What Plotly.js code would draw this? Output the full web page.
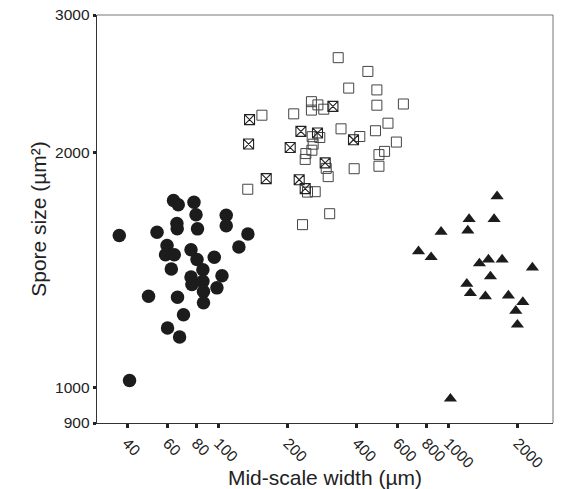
<!DOCTYPE html>
<html>
<head>
<meta charset="utf-8">
<script src="https://cdn.plot.ly/plotly-3.0.1.min.js"></script>
<style>html,body{margin:0;padding:0;background:#fff;}#chart{width:566px;height:489px;}</style>
</head>
<body>
<div id="chart"></div>
<script>
// Filled circles
const circleX = [37.0, 54.0, 63.7, 66.8, 78.2, 79.8, 65.9, 66.1, 81.0, 108, 108, 134.2, 122.6, 59.7, 58.8, 64.2, 62.3, 75.9, 80.6, 85.5, 95.8, 75.9, 76.6, 85.5, 86.0, 86.0, 103.5, 98.4, 49.6, 66.3, 70.4, 60.0, 67.7, 41.0];
const circleY = [1565, 1580, 1735, 1714, 1726, 1664, 1621, 1597, 1596, 1661, 1611, 1572, 1513, 1520, 1479, 1479, 1418, 1501, 1458, 1415, 1468, 1385, 1354, 1367, 1327, 1283, 1390, 1341, 1308, 1304, 1239, 1191, 1160, 1020];

// Crossed squares
const crossX = [136.4, 135.1, 161.2, 205.0, 228.2, 269.4, 314.4, 224.3, 238.2, 291.0, 386.4];
const crossY = [2203, 2050, 1851, 2029, 2128, 2118, 2291, 1845, 1797, 1939, 2076];

// Open squares
const openX = [331.5, 446.3, 368.3, 488.3, 488.3, 636.9, 253.5, 253.5, 270.5, 287, 154.4, 212.3, 341, 545.8, 481.5, 411.6, 593.7, 527.5, 498.6, 498.6, 389, 299.9, 294, 255.5, 258, 254.7, 239.7, 238.2, 275.7, 263.3, 243.8, 134, 304.4, 231.9];
const openY = [2645, 2540, 2418, 2405, 2299, 2307, 2323, 2266, 2301, 2272, 2232, 2241, 2144, 2180, 2132, 2096, 2062, 2006, 1987, 1920, 1906, 1862, 1908, 2095, 2049, 2013, 1993, 1959, 2090, 1781, 1779, 1794, 1669, 1616];

// Filled triangles
const triX = [1628, 1230, 1580, 929, 1214, 741, 841, 1364, 1493, 1712, 2318, 1523, 1202, 1246, 1448, 1823, 2106, 1963, 1995, 1020];
const triY = [1757, 1643, 1643, 1582, 1588, 1494, 1468, 1441, 1458, 1458, 1424, 1387, 1357, 1320, 1308, 1311, 1286, 1253, 1203, 967];

const xTicks = [40, 60, 80, 100, 200, 400, 600, 800, 1000, 2000];
const xTickText = ['40', '60', '80', '100', '200', '400', '600', '800', '1000', '2000'];
const yTicks = [900, 1000, 2000, 3000];
const yTickText = ['900', '1000', '2000', '3000'];

const ink = '#1c1c1c';
const traces = [
  {x: openX, y: openY, mode: 'markers', type: 'scatter', name: 'open',
   marker: {symbol: 'square-open', size: 10, color: '#444', line: {width: 1, color: '#444'}}},
  {x: crossX, y: crossY, mode: 'markers', type: 'scatter', name: 'crossed',
   marker: {symbol: 'square-x-open', size: 10, color: '#222', line: {width: 1.1, color: '#222'}}},
  {x: circleX, y: circleY, mode: 'markers', type: 'scatter', name: 'circles',
   marker: {symbol: 'circle', size: 13.5, color: ink, line: {width: 0}}},
  {x: triX, y: triY, mode: 'markers', type: 'scatter', name: 'triangles',
   marker: {symbol: 'triangle-up', size: 11.5, color: ink, line: {width: 0}}}
];

const layout = {
  width: 566, height: 489,
  margin: {l: 97, r: 13, t: 15, b: 66},
  paper_bgcolor: '#fff', plot_bgcolor: '#fff',
  showlegend: false,
  font: {family: '"Liberation Sans", Arial, sans-serif', color: '#222'},
  xaxis: {
    type: 'log', range: [Math.log10(29.6), Math.log10(2850)],
    tickvals: xTicks, ticktext: xTickText, tickangle: 45,
    ticks: 'outside', ticklen: 4, tickwidth: 3, tickcolor: '#222',
    tickfont: {size: 15.5, color: '#222'},
    showgrid: false, zeroline: false,
    showline: true, linecolor: '#333', linewidth: 1.3,
    title: {text: 'Mid-scale width (µm)', font: {size: 21, color: '#222'}, standoff: 0},
    automargin: false
  },
  yaxis: {
    type: 'log', range: [Math.log10(900), Math.log10(3000)],
    tickvals: yTicks, ticktext: yTickText,
    ticks: 'outside', ticklen: 3, tickwidth: 3, tickcolor: '#222',
    tickfont: {size: 15.5, color: '#222'},
    showgrid: false, zeroline: false,
    showline: true, linecolor: '#333', linewidth: 1.3,
    title: {text: 'Spore size (µm²)', font: {size: 21, color: '#222'}, standoff: 2},
    automargin: false
  },
  shapes: [
    {type: 'line', xref: 'paper', yref: 'paper', x0: 0, x1: 1, y0: 1, y1: 1, line: {color: '#777', width: 1}},
    {type: 'line', xref: 'paper', yref: 'paper', x0: 1, x1: 1, y0: 0, y1: 1, line: {color: '#777', width: 1}}
  ]
};

Plotly.newPlot('chart', traces, layout, {displayModeBar: false, staticPlot: true});
</script>
</body>
</html>
